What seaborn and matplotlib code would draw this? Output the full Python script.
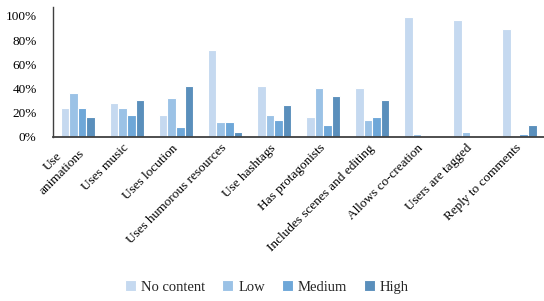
import pandas as pd
import matplotlib.pyplot as plt
import seaborn as sns
from matplotlib.ticker import PercentFormatter

# Data
categories = ["Use\nanimations", "Uses music", "Uses locution", "Uses humorous resources",
              "Use hashtags", "Has protagonists", "Includes scenes and editing",
              "Allows co-creation", "Users are tagged", "Reply to comments"]
levels = ["No content", "Low", "Medium", "High"]
no_content = [24, 28, 18, 72, 42, 16, 40, 99, 97, 89]
low = [36, 24, 32, 12, 18, 40, 14, 2, 4, 0]
medium = [24, 18, 8, 12, 14, 10, 16, 0, 0, 2]
high = [16, 30, 42, 4, 26, 34, 30, 0, 0, 10]
colors = ["#c5d9f0", "#9bc2e6", "#6ea7d8", "#5a8fbc"]

# Long format for seaborn
rows = []
for lvl, vals in zip(levels, [no_content, low, medium, high]):
    for cat, v in zip(categories, vals):
        rows.append({"Category": cat, "Level": lvl, "Value": v / 100})
df = pd.DataFrame(rows)

sns.set_style("white")
plt.rcParams["font.family"] = ["Liberation Serif", "DejaVu Serif"]

fig = plt.figure(figsize=(5.44, 3.01), dpi=100)
ax = fig.add_axes([0.098, 0.546, 0.902, 0.431])
sns.barplot(data=df, x="Category", y="Value", hue="Level", order=categories,
            hue_order=levels, palette=colors, saturation=1, width=0.7,
            edgecolor="white", linewidth=0.8, ax=ax)

ax.set_ylim(0, 1.075)
ax.set_yticks([0, 0.2, 0.4, 0.6, 0.8, 1.0])
ax.yaxis.set_major_formatter(PercentFormatter(1.0, decimals=0))
ax.set_xlim(-0.5, 9.5)
ax.set_xlabel("")
ax.set_ylabel("")
ax.tick_params(axis="both", length=0, labelsize=9.5, colors="black")
ax.tick_params(axis="y", pad=12)
ax.tick_params(axis="x", pad=7)
plt.setp(ax.get_xticklabels(), rotation=45, ha="right", va="center",
         rotation_mode="anchor", multialignment="center")
sns.despine(ax=ax, top=True, right=True)
ax.spines["left"].set_color("#404040")
ax.spines["bottom"].set_color("#404040")
ax.spines["left"].set_linewidth(1.0)
ax.spines["bottom"].set_linewidth(1.3)

handles, labels = ax.get_legend_handles_labels()
ax.get_legend().remove()
fig.legend(handles, labels, loc="center", bbox_to_anchor=(0.491, 0.047), ncol=4,
           frameon=False, fontsize=10.5, handlelength=0.75, handleheight=0.75,
           columnspacing=1.15, handletextpad=0.35)

plt.savefig("out.png", dpi=100)
